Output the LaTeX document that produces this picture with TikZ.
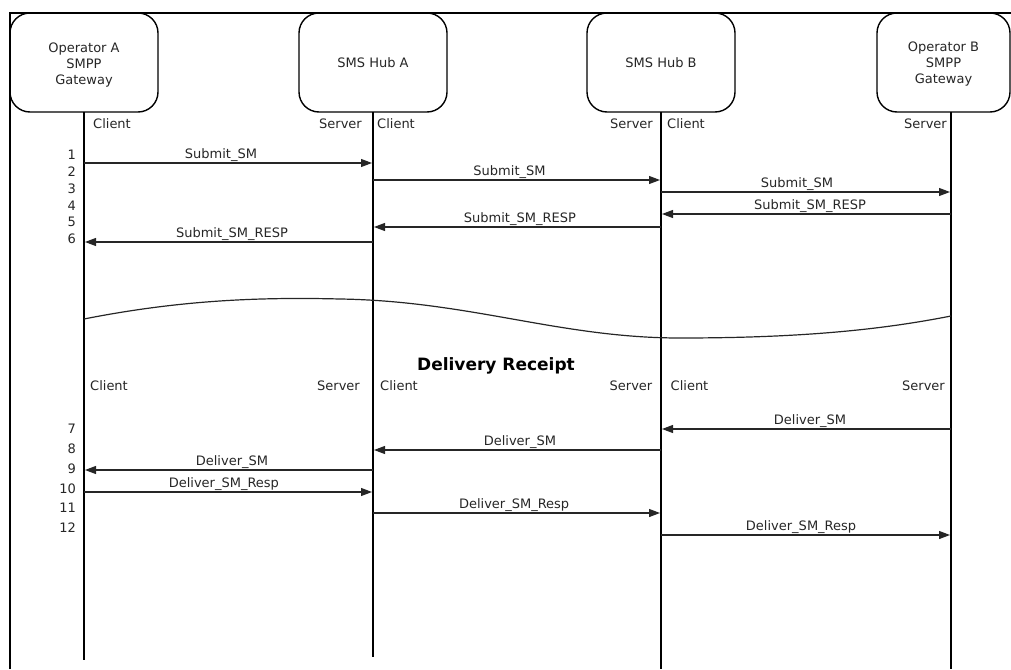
\documentclass[tikz,border=0pt]{standalone}
\usepackage{fontspec}
\setmainfont{DejaVu Sans}
\usetikzlibrary{arrows.meta}
\begin{document}
\begin{tikzpicture}[x=1pt,y=-1pt,
  txt/.style={font=\fontsize{13}{16}\selectfont, text=black!85, inner sep=0pt},
  box/.style={draw, line width=1.4pt, rounded corners=20pt, align=center, txt, minimum height=99pt, outer sep=0pt},
  life/.style={line width=2pt},
  msg/.style={line width=1.1pt, draw=black!85, shorten >=1pt, -{Triangle[length=11pt,width=8pt]}},
  lbl/.style={txt, anchor=base, yshift=4.5pt},
  num/.style={txt, anchor=base east},
  rolel/.style={txt, anchor=base west},
  roler/.style={txt, anchor=base east},
]
\useasboundingbox (0,0) rectangle (1011,669);
% frame
\draw[line width=1.4pt] (10,669) -- (10,13) -- (1011,13);
% participants
\node[box, minimum width=148pt] (opA) at (84,62.5) {\rule{0pt}{14pt}Operator A\\SMPP\\Gateway};
\node[box, minimum width=148pt] (hubA) at (373,62.5) {SMS Hub A};
\node[box, minimum width=148pt] (hubB) at (661,62.5) {SMS Hub B};
\node[box, minimum width=133pt] (opB) at (943.5,62.5) {\rule{0pt}{12pt}Operator B\\SMPP\\Gateway};
% lifelines
\coordinate (a0) at (84,112);  \coordinate (a1) at (84,660);
\coordinate (b0) at (373,112); \coordinate (b1) at (373,657);
\coordinate (c0) at (661,112); \coordinate (c1) at (661,669);
\coordinate (d0) at (951,112); \coordinate (d1) at (951,669);
\draw[life] (a0) -- (a1);
\draw[life] (b0) -- (b1);
\draw[life] (c0) -- (c1);
\draw[life] (d0) -- (d1);
% role labels, top
\node[rolel] (ca1) at (93,128) {Client};
\node[roler] (sb1) at (362,128) {Server};
\node[rolel] (cb1) at (377,128) {Client};
\node[roler] (sc1) at (653,128) {Server};
\node[rolel] (cc1) at (667,128) {Client};
\node[roler] (sd1) at (947,128) {Server};
% role labels, bottom
\node[rolel] (ca2) at (90,390.5) {Client};
\node[roler] (sb2) at (360,390.5) {Server};
\node[rolel] (cb2) at (380,390.5) {Client};
\node[roler] (sc2) at (652.5,390.5) {Server};
\node[rolel] (cc2) at (670.5,390.5) {Client};
\node[roler] (sd2) at (945,390.5) {Server};
% step numbers
\node[num] (n1) at (76,159.75) {1};
\node[num] (n2) at (76,176.75) {2};
\node[num] (n3) at (76,193.75) {3};
\node[num] (n4) at (76,210.75) {4};
\node[num] (n5) at (76,226.75) {5};
\node[num] (n6) at (76,243.75) {6};
\node[num] (n7) at (76,433.75) {7};
\node[num] (n8) at (76,453.75) {8};
\node[num] (n9) at (76,473.75) {9};
\node[num] (n10) at (76,493.75) {10};
\node[num] (n11) at (76,512.75) {11};
\node[num] (n12) at (76,532.75) {12};
% message rows
\coordinate (r1) at (0,163);
\coordinate (r2) at (0,180);
\coordinate (r3) at (0,192);
\coordinate (r4) at (0,214);
\coordinate (r5) at (0,227);
\coordinate (r6) at (0,242);
\coordinate (r7) at (0,429);
\coordinate (r8) at (0,450);
\coordinate (r9) at (0,470);
\coordinate (r10) at (0,492);
\coordinate (r11) at (0,513);
\coordinate (r12) at (0,535);
\draw[msg] (a0 |- r1) -- (b0 |- r1) node[lbl, pos=0.474] (m1) {Submit\_SM};
\draw[msg] (b0 |- r2) -- (c0 |- r2) node[lbl, pos=0.474] (m2) {Submit\_SM};
\draw[msg] (c0 |- r3) -- (d0 |- r3) node[lbl, pos=0.469] (m3) {Submit\_SM};
\draw[msg] (d0 |- r4) -- (c0 |- r4) node[lbl, pos=0.486] (m4) {Submit\_SM\_RESP};
\draw[msg] (c0 |- r5) -- (b0 |- r5) node[lbl, pos=0.49] (m5) {Submit\_SM\_RESP};
\draw[msg] (b0 |- r6) -- (a0 |- r6) node[lbl, pos=0.488] (m6) {Submit\_SM\_RESP};
\draw[msg] (d0 |- r7) -- (c0 |- r7) node[lbl, pos=0.486] (m7) {Deliver\_SM};
\draw[msg] (c0 |- r8) -- (b0 |- r8) node[lbl, pos=0.49] (m8) {Deliver\_SM};
\draw[msg] (b0 |- r9) -- (a0 |- r9) node[lbl, pos=0.488] (m9) {Deliver\_SM};
\draw[msg] (a0 |- r10) -- (b0 |- r10) node[lbl, pos=0.484] (m10) {Deliver\_SM\_Resp};
\draw[msg] (b0 |- r11) -- (c0 |- r11) node[lbl, pos=0.49] (m11) {Deliver\_SM\_Resp};
\draw[msg] (c0 |- r12) -- (d0 |- r12) node[lbl, pos=0.483] (m12) {Deliver\_SM\_Resp};
% break wave
\draw[line width=1.2pt, black!85] (84,319) .. controls (180,300) and (260,297) .. (340,299)
  .. controls (470,301) and (560,338) .. (680,338)
  .. controls (800,338) and (880,330) .. (951,316);
% section title
\node[txt, font=\fontsize{17}{20}\selectfont\bfseries, text=black, anchor=base] (dr) at (496,370) {Delivery Receipt};
\end{tikzpicture}
\end{document}
